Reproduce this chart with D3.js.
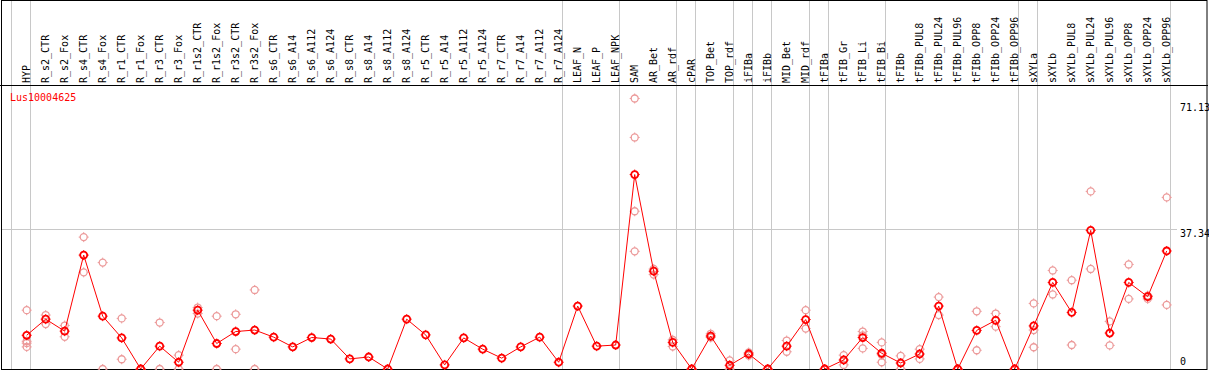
<!DOCTYPE html>
<html lang="en">
	<head>
		<meta charset="utf-8">
		<title>Lus10004625</title>
		<script type="text/javascript" src="https://cdn.jsdelivr.net/npm/d3@7"></script>
		<style type="text/css">
		body { margin: 0; background: #fff; }
		text { font-family: "DejaVu Sans Mono", "Liberation Mono", monospace; font-size: 10px; }
		</style>
	</head>
	<body>
		<script type="text/javascript">

		//Width and height
		var w = 1209;
		var h = 370;

		var geneName = "Lus10004625";

		var samples = ["HYP", "R_s2_CTR", "R_s2_Fox", "R_s4_CTR", "R_s4_Fox", "R_r1_CTR", "R_r1_Fox",
			"R_r3_CTR", "R_r3_Fox", "R_r1s2_CTR", "R_r1s2_Fox", "R_r3s2_CTR", "R_r3s2_Fox",
			"R_s6_CTR", "R_s6_A14", "R_s6_A112", "R_s6_A124", "R_s8_CTR", "R_s8_A14", "R_s8_A112", "R_s8_A124",
			"R_r5_CTR", "R_r5_A14", "R_r5_A112", "R_r5_A124", "R_r7_CTR", "R_r7_A14", "R_r7_A112", "R_r7_A124",
			"LEAF_N", "LEAF_P", "LEAF_NPK", "SAM", "AR_Bet", "AR_rdf", "cPAR", "TOP_Bet", "TOP_rdf",
			"iFIBa", "iFIBb", "MID_Bet", "MID_rdf", "tFIBa", "tFIB_Gr", "tFIB_Li", "tFIB_Bi", "tFIBb",
			"tFIBb_PUL8", "tFIBb_PUL24", "tFIBb_PUL96", "tFIBb_OPP8", "tFIBb_OPP24", "tFIBb_OPP96",
			"sXYLa", "sXYLb", "sXYLb_PUL8", "sXYLb_PUL24", "sXYLb_PUL96", "sXYLb_OPP8", "sXYLb_OPP24", "sXYLb_OPP96"];

		//mean expression per sample
		var means = [9.0, 13.3, 10.1, 30.4, 14.1, 8.3, 0, 6.1, 1.8, 15.7, 6.8, 10.0, 10.4,
			8.5, 5.9, 8.4, 8.0, 2.7, 3.2, 0, 13.3, 9.1, 1.1, 8.3, 5.3, 2.9, 5.9, 8.5, 1.8,
			16.8, 6.1, 6.4, 51.9, 26.1, 7.1, 0, 8.8, 1.0, 4.0, 0, 6.1, 13.2, 0, 2.4, 8.4, 4.2, 1.6,
			4.0, 16.8, 0, 10.3, 13.0, 0,
			11.5, 23.1, 15.1, 37.0, 9.6, 23.1, 19.3, 31.5];

		//replicate values per sample
		var replicates = [[15.7, 7.4, 6.9, 5.9], [14.4, 12.0], [11.6, 8.6], [35.2, 25.8], [28.4, 0], [13.5, 2.6], [0, 0],
			[12.4, 0], [3.7, 0], [16.4, 14.8], [14.1, 0], [14.6, 5.3], [21.1, 0],
			[], [], [], [], [], [], [], [], [], [], [], [], [], [], [], [],
			[], [], [], [72.2, 61.8, 42.1, 31.4], [26.7, 25.2], [7.8, 6.0], [0, 0], [9.4, 8.4], [2.3, 0],
			[4.4, 3.6], [0, 0], [7.6, 4.6], [15.7, 10.8], [0, 0], [3.7, 1.1], [10.0, 5.5, 9.0], [7.1, 1.8, 3.8], [3.5, 0],
			[5.3, 2.7], [19.2, 14.4], [0, 0], [15.4, 5.0], [14.8, 11.3], [0, 0],
			[17.5, 10.4, 5.8], [26.3, 19.9], [23.7, 6.4], [47.4, 26.7], [12.7, 6.3], [27.9, 18.7], [18.7, 19.6], [45.8, 17.1]];

		//grey separators are drawn after these sample indexes (-1 = before first)
		var groupEnds = [-1, 0, 28, 31, 34, 35, 37, 38, 39, 41, 42, 45, 52, 53, 60];

		var yTicks = [0, 37.34, 71.13];

		var plotTop = 85, plotBottom = 369;

		var x = d3.scaleBand()
			.domain(d3.range(samples.length))
			.range([17.2, 17.2 + 19 * samples.length]);

		var y = d3.scaleLinear()
			.domain([0, 71.13])
			.range([plotBottom, 102.5]);

		function cx(i) { return x(i) + x.bandwidth() / 2; }

		//Create SVG element
		var svg = d3.select("body")
					.append("svg")
					.attr("width", w)
					.attr("height", h);

		//grey vertical separators
		svg.selectAll("line.sep")
			.data(groupEnds)
			.enter()
			.append("line")
			.attr("class", "sep")
			.attr("x1", function(d) { return cx(d === -1 ? 0 : d) + (d === -1 ? -15 : 4); })
			.attr("x2", function(d) { return cx(d === -1 ? 0 : d) + (d === -1 ? -15 : 4); })
			.attr("y1", 0)
			.attr("y2", plotBottom)
			.attr("shape-rendering", "crispEdges")
			.style("stroke", "#c8c8c8");

		//middle grid line
		svg.append("line")
			.attr("x1", 1)
			.attr("x2", 1177)
			.attr("y1", Math.round(y(yTicks[1])) + 0.5)
			.attr("y2", Math.round(y(yTicks[1])) + 0.5)
			.style("stroke", "#c8c8c8");

		//frame
		svg.append("rect")
			.attr("x", 1.5)
			.attr("y", 0.5)
			.attr("width", 1207 - 1.5)
			.attr("height", plotBottom)
			.style("fill", "none")
			.style("stroke", "#000");

		svg.append("line")
			.attr("x1", 0)
			.attr("x2", 1208)
			.attr("y1", plotTop + 0.5)
			.attr("y2", plotTop + 0.5)
			.style("stroke", "#000");

		//sample labels
		svg.selectAll("text.sample")
			.data(samples)
			.enter()
			.append("text")
			.attr("class", "sample")
			.attr("transform", function(d, i) {
				return "translate(" + (cx(i) + 3) + "," + (plotTop - 2) + ") rotate(-90)";
			})
			.text(function(d) { return d; });

		//y tick labels
		svg.selectAll("text.tick")
			.data(yTicks)
			.enter()
			.append("text")
			.attr("class", "tick")
			.attr("x", 1180)
			.attr("y", function(d) { return d === 0 ? 365 : y(d) + 8; })
			.text(function(d) { return d; });

		//gene name
		svg.append("text")
			.attr("x", 10)
			.attr("y", 101)
			.style("fill", "#f00")
			.text(geneName);

		//marker: ring with four small ticks
		function marker(g, color, width) {
			g.append("circle")
				.attr("r", 3.5)
				.style("fill", "none")
				.style("stroke", color)
				.style("stroke-width", width);
			g.append("path")
				.attr("d", "M0,-5V-3.5M0,3.5V5M-5,0H-3.5M3.5,0H5")
				.style("stroke", color)
				.style("stroke-width", 1);
		}

		//replicate points
		var reps = [];
		replicates.forEach(function(r, i) {
			r.forEach(function(v) { reps.push({ i: i, v: v }); });
		});

		svg.selectAll("g.rep")
			.data(reps)
			.enter()
			.append("g")
			.attr("class", "rep")
			.attr("transform", function(d) { return "translate(" + cx(d.i) + "," + y(d.v) + ")"; })
			.each(function() { marker(d3.select(this), "#ec9a9a", 1.3); });

		//mean line
		var line = d3.line()
			.x(function(d, i) { return cx(i); })
			.y(function(d) { return y(d); });

		svg.append("path")
			.datum(means)
			.attr("d", line)
			.style("fill", "none")
			.style("stroke", "#f00")
			.style("stroke-width", 1);

		svg.selectAll("g.mean")
			.data(means)
			.enter()
			.append("g")
			.attr("class", "mean")
			.attr("transform", function(d, i) { return "translate(" + cx(i) + "," + y(d) + ")"; })
			.each(function() { marker(d3.select(this), "#f00", 1.8); });

		</script>
	</body>
</html>
